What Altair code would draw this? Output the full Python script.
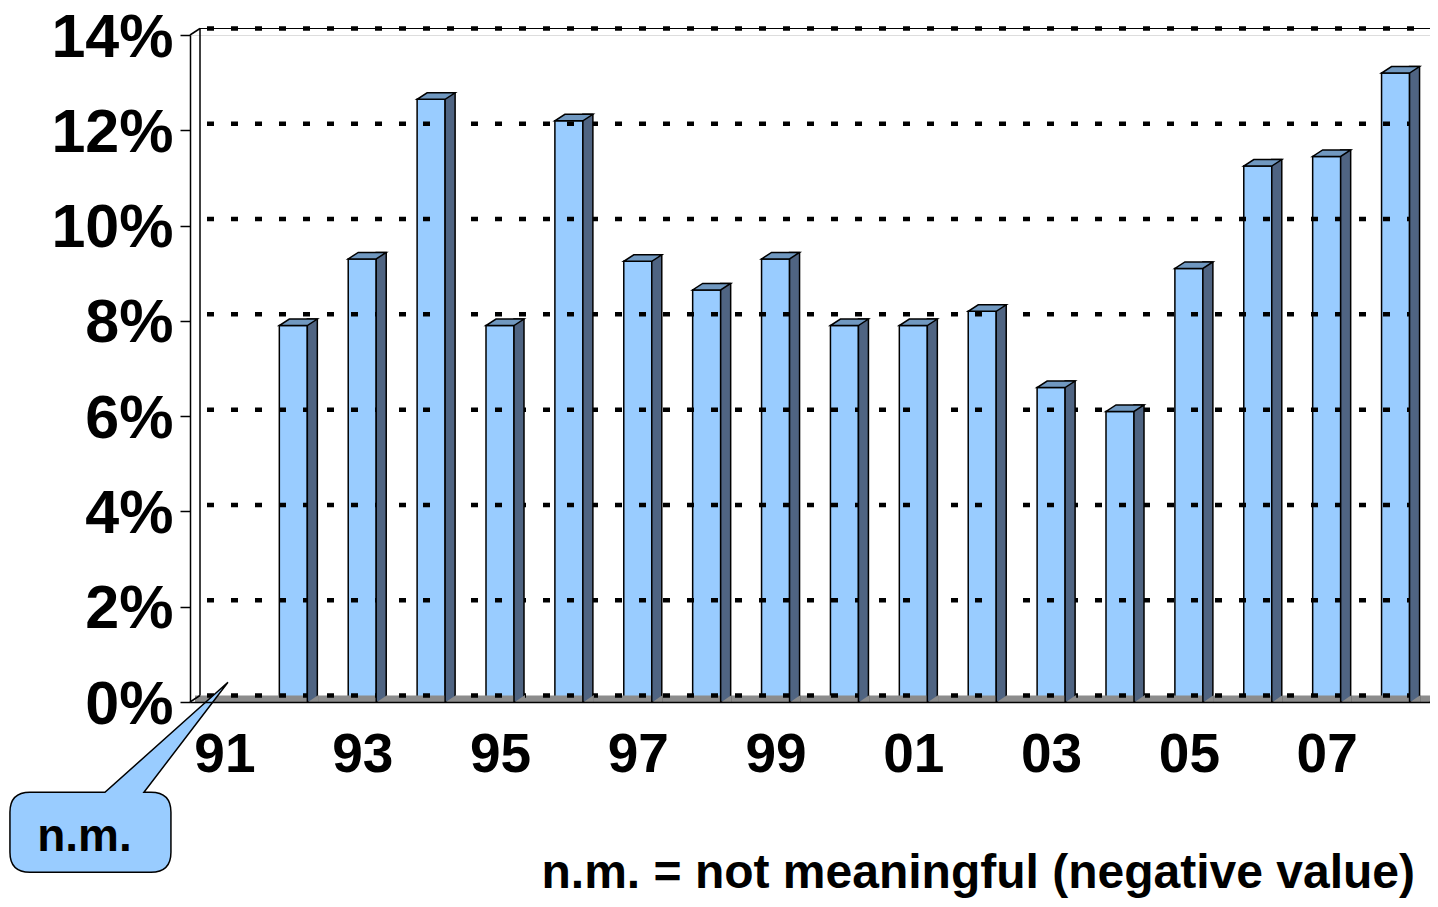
import altair as alt
import pandas as pd

# ---- data ----
years = [1991, 1992, 1993, 1994, 1995, 1996, 1997, 1998, 1999,
         2000, 2001, 2002, 2003, 2004, 2005, 2006, 2007, 2008]
values = [None, 7.9, 9.3, 12.65, 7.9, 12.2, 9.25, 8.65, 9.3,
          7.9, 7.9, 8.2, 6.6, 6.1, 9.1, 11.25, 11.45, 13.2]
x_label_years = [1991, 1993, 1995, 1997, 1999, 2001, 2003, 2005, 2007]
y_ticks = [0, 2, 4, 6, 8, 10, 12, 14]
callout_text = "n.m."
note_text = "n.m. = not meaningful (negative value)"

x_min = years[0] - 0.5
x_max = years[-1] + 0.5
y_max = y_ticks[-1]

df = pd.DataFrame({"year": years, "value": values, "zero": [0] * len(years)})
bars_df = df.dropna().reset_index(drop=True)
grid_df = pd.DataFrame({"pct": y_ticks, "x0": [x_min] * len(y_ticks),
                        "x1": [x_max] * len(y_ticks)})
frame_df = pd.DataFrame({"x0": [x_min], "x1": [x_max], "y0": [0], "ym": [y_max]})
nm_df = pd.DataFrame({"year": [years[0]], "zero": [0], "label": [callout_text]})
note_df = pd.DataFrame({"x1": [x_max], "y0": [0], "label": [note_text]})

FONT = "Liberation Sans"
FRONT = "#99CCFF"
SIDE = "#4F6482"
TOP = "#7098C0"
FLOOR = "#8C8C8C"
DX, DY = 10, -6.5

xs = alt.Scale(domain=[x_min, x_max], nice=False, zero=False)
ys = alt.Scale(domain=[0, y_max], nice=False, zero=True)


def X(f):
    return alt.X(f, scale=xs, title=None)


def Y(f):
    return alt.Y(f, scale=ys, title=None)


# floor (gray strip)
floor = alt.Chart(frame_df).mark_rect(
    fill=FLOOR, xOffset=5, x2Offset=5, yOffset=DY
).encode(x=X("x0:Q"), x2="x1:Q", y=Y("y0:Q"), y2="y0:Q")

# back wall left edge, top edge
back_left = alt.Chart(frame_df).mark_rule(
    color="black", strokeWidth=1.5, xOffset=DX, yOffset=DY, y2Offset=DY
).encode(x=X("x0:Q"), y=Y("ym:Q"), y2="y0:Q")

back_top = alt.Chart(frame_df).mark_rule(
    color="black", strokeWidth=1.2, xOffset=DX, x2Offset=DX + 10, yOffset=DY
).encode(x=X("x0:Q"), x2="x1:Q", y=Y("ym:Q"))

diag_bottom = alt.Chart(frame_df).mark_rule(
    color="black", strokeWidth=1.5, x2Offset=DX, y2Offset=DY
).encode(x=X("x0:Q"), x2="x0:Q", y=Y("y0:Q"), y2="y0:Q")

diag_top = alt.Chart(frame_df).mark_rule(
    color="black", strokeWidth=1.5, x2Offset=DX, y2Offset=DY
).encode(x=X("x0:Q"), x2="x0:Q", y=Y("ym:Q"), y2="ym:Q")

diag_right = alt.Chart(frame_df).mark_rule(
    color="black", strokeWidth=1.5, x2Offset=DX, y2Offset=DY
).encode(x=X("x1:Q"), x2="x1:Q", y=Y("y0:Q"), y2="y0:Q")

# dashed gridlines on the back wall
grid = alt.Chart(grid_df).mark_rule(
    color="black", strokeWidth=4.5, strokeDash=[7, 17], strokeDashOffset=17,
    xOffset=DX, x2Offset=DX + 10, yOffset=DY
).encode(x=X("x0:Q"), x2="x1:Q", y=Y("pct:Q"))

# side faces of the columns
side = alt.Chart(bars_df).mark_rect(
    fill=SIDE, stroke="black", strokeWidth=1.5,
    xOffset=14, x2Offset=14 + DX, yOffset=DY
).encode(x=X("year:Q"), x2="year:Q", y=Y("value:Q"), y2="zero:Q")

# floor patch right of each column
floor_tri = alt.Chart(bars_df).mark_point(
    shape="M14,0.6 L25,-7 L25,0.6 Z", size=4, filled=True, fill=FLOOR,
    opacity=1, strokeWidth=0
).encode(x=X("year:Q"), y=Y("zero:Q"))

# top faces
top = alt.Chart(bars_df).mark_point(
    shape="M-14,0 L14,0 L24,-6.5 L-4,-6.5 Z", size=4, filled=True, fill=TOP,
    opacity=1, stroke="black", strokeWidth=1.5
).encode(x=X("year:Q"), y=Y("value:Q"))

# front faces (carry the axes)
front = alt.Chart(bars_df).mark_rect(
    fill=FRONT, stroke="black", strokeWidth=1.5, xOffset=-14, x2Offset=14
).encode(
    x=alt.X("year:Q", scale=xs, title=None, axis=alt.Axis(
        values=x_label_years, labelExpr="substring(toString(datum.value), 2)",
        grid=False, ticks=False, domain=True, domainColor="black", domainWidth=1.5,
        labelFont=FONT, labelFontSize=55, labelFontWeight="bold", labelColor="black",
        labelPadding=26, labelFlush=False, labelOverlap=False, zindex=1)),
    x2="year:Q",
    y=alt.Y("value:Q", scale=ys, title=None, axis=alt.Axis(
        values=y_ticks, labelExpr="datum.value + '%'",
        grid=False, ticks=True, tickSize=10, tickColor="black", tickWidth=1.5,
        domain=True, domainColor="black", domainWidth=1.5,
        labelFont=FONT, labelFontSize=61, labelFontWeight="bold", labelColor="black",
        labelPadding=7, labelOffset=3, labelFlush=False, labelOverlap=False, zindex=1)),
    y2="zero:Q",
)

# callout bubble pointing at 1991
bubble_path = ("M3.5,-19.7 L-80.5,90.3 L-73.5,90.3 Q-53.5,90.3 -53.5,110.3 "
               "L-53.5,150.3 Q-53.5,170.3 -73.5,170.3 L-194.5,170.3 "
               "Q-214.5,170.3 -214.5,150.3 L-214.5,110.3 Q-214.5,90.3 -194.5,90.3 "
               "L-119.5,90.3 Z")
bubble = alt.Chart(nm_df).mark_point(
    shape=bubble_path, size=4, filled=True, fill=FRONT, opacity=1,
    stroke="black", strokeWidth=1.5
).encode(x=X("year:Q"), y=Y("zero:Q"))

bubble_text = alt.Chart(nm_df).mark_text(
    font=FONT, fontSize=46, fontWeight="bold", color="black",
    align="center", baseline="alphabetic", dx=-140, dy=149
).encode(x=X("year:Q"), y=Y("zero:Q"), text="label:N")

note = alt.Chart(note_df).mark_text(
    font=FONT, fontSize=48, fontWeight="bold", color="black",
    align="right", baseline="alphabetic", dx=-15, dy=186
).encode(x=X("x1:Q"), y=Y("y0:Q"), text="label:N")

chart = alt.layer(
    front, floor, back_left, back_top, grid, diag_bottom, diag_top, diag_right,
    side, floor_tri, top, bubble, bubble_text, note
).properties(
    width=1240, height=667,
    autosize=alt.AutoSizeParams(type="none"),
    padding={"left": 182, "top": 27, "right": 0, "bottom": 197},
).configure_view(stroke=None).configure(background="white")

chart.save("out.html", embed_options={"renderer": "svg", "actions": False})
